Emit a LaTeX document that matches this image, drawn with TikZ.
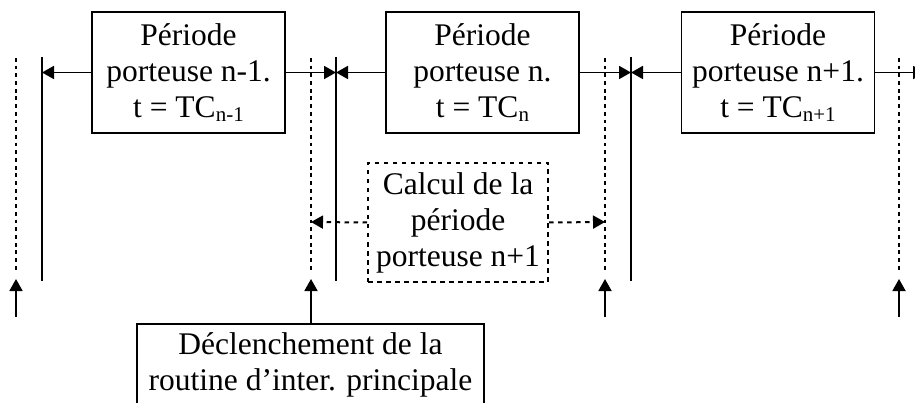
\documentclass[tikz,border=0pt]{standalone}
\usepackage{fontspec}
\setmainfont{Liberation Serif}
\usetikzlibrary{arrows.meta}
\newcommand{\subs}[1]{\raisebox{-4pt}{\fontsize{21}{21}\selectfont #1}}
\begin{document}
\begin{tikzpicture}[x=1pt,y=-1pt,
  txt/.style={font=\fontsize{31.5}{36}\selectfont, align=center, inner sep=0pt},
  perbox/.style={txt, draw, line width=1.8pt, minimum width=193pt, minimum height=121pt},
  calcbox/.style={txt, draw, line width=2pt, dash pattern=on 4.5pt off 4.5pt, minimum width=180pt, minimum height=119pt},
  trigbox/.style={txt, draw, line width=1.8pt, minimum width=347pt, minimum height=82pt},
  tip/.style={-{Triangle[length=12pt,width=13pt]}},
  solidline/.style={line width=1.8pt},
  dotline/.style={line width=2.4pt, dash pattern=on 3.8pt off 3.9pt},
  conn/.style={line width=1.8pt, tip},
  dconn/.style={line width=2pt, dash pattern=on 4.5pt off 4.5pt, tip}
]
\useasboundingbox (0,0) rectangle (915,403);
\clip (0,0) rectangle (915,403);

% period boxes
\node[perbox] (p1) at (188.5,72.5) {Période\\porteuse n-1.\\t = TC\subs{n-1}};
\node[perbox] (p2) at (482.5,72.5) {Période\\porteuse n.\\t = TC\subs{n}};
\node[perbox] (p3) at (778,72.5) {Période\\porteuse n+1.\\t = TC\subs{n+1}};

% calcul box
\node[calcbox] (calc) at (458,222.5) {Calcul de la\\période\\porteuse n+1};

% trigger box
\node[trigbox, anchor=north] (trig) at (310.5,323) {Déclenchement de la\\routine d’inter. principale};

% solid period boundaries
\foreach \n/\x in {a/42, b/336, c/631, d/925}{
  \coordinate (stop\n) at (\x,57);
  \coordinate (sbot\n) at (\x,281);
  \coordinate (smid\n) at (\x,72.5);
  \draw[solidline] (stop\n) -- (sbot\n);
}
% dotted interrupt lines and up arrows
\foreach \n/\x in {a/16, b/311, c/605, d/899}{
  \coordinate (dtop\n) at (\x,58);
  \coordinate (dbot\n) at (\x,272);
  \coordinate (dtip\n) at (\x,279);
  \coordinate (dtail\n) at (\x,317);
  \coordinate (dmid\n) at (\x,222);
  \draw[dotline] (dtop\n) -- (dbot\n);
}
\draw[conn] (dtaila) -- (dtipa);
\draw[conn] (trig.north -| dtailb) -- (dtipb);
\draw[conn] (dtailc) -- (dtipc);
\draw[conn] (dtaild) -- (dtipd);

% period arrows
\draw[conn] (p1.west) -- (smida);
\draw[conn] (p1.east) -- (smidb);
\draw[conn] (p2.west) -- (smidb);
\draw[conn] (p2.east) -- (smidc);
\draw[conn] (p3.west) -- (smidc);
\draw[conn] (p3.east) -- (smidd);

% calcul arrows
\draw[dconn] (calc.west) -- (dmidb);
\draw[dconn] (calc.east) -- (dmidc);
\end{tikzpicture}
\end{document}
